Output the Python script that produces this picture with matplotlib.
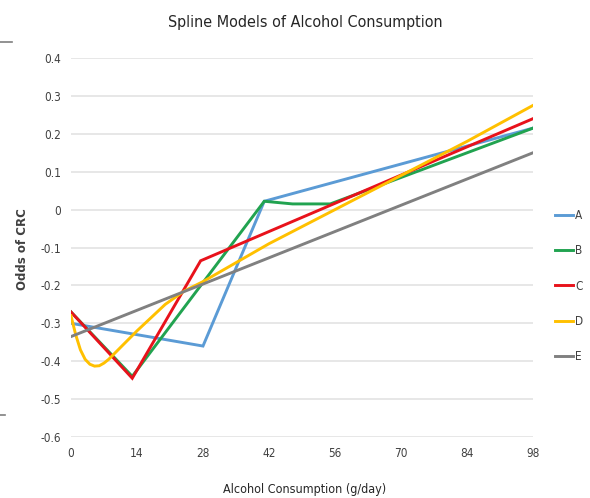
import matplotlib
matplotlib.use("Agg")
import matplotlib.pyplot as plt
from matplotlib.lines import Line2D

plt.rcParams['font.family'] = ["DejaVu Sans"]
plt.rcParams['font.stretch'] = 'condensed'

title = "Spline Models of Alcohol Consumption"
x_label = "Alcohol Consumption (g/day)"
y_label = "Odds of CRC"
x_ticks = [0, 14, 28, 42, 56, 70, 84, 98]
y_ticks = [0.4, 0.3, 0.2, 0.1, 0, -0.1, -0.2, -0.3, -0.4, -0.5, -0.6]

names = ["A", "B", "C", "D", "E"]
colors = ["#5b9bd5", "#21a350", "#e8121b", "#ffc000", "#808080"]

a_x = [0, 28, 41, 98]
a_y = [-0.30, -0.36, 0.022, 0.215]

b_x = [0, 13, 41, 47, 55, 98]
b_y = [-0.27, -0.44, 0.022, 0.015, 0.015, 0.215]

c_x = [0, 13, 27.5, 98]
c_y = [-0.27, -0.445, -0.135, 0.24]

d_x = [0, 1, 2, 3, 4, 5, 6, 7, 8, 10, 12, 14, 17, 20, 24, 28, 35, 42, 56, 70, 84, 98]
d_y = [-0.28, -0.33, -0.37, -0.395, -0.408, -0.413, -0.412, -0.405, -0.395, -0.37,
       -0.345, -0.32, -0.285, -0.25, -0.215, -0.19, -0.14, -0.09, 0.0, 0.09, 0.18, 0.275]

e_x = [0, 98]
e_y = [-0.335, 0.15]

series = [(a_x, a_y), (b_x, b_y), (c_x, c_y), (d_x, d_y), (e_x, e_y)]

fig = plt.figure(figsize=(5.9, 4.98), dpi=100)
ax = fig.add_axes([0.1203, 0.1225, 0.7831, 0.761])

for (xs, ys), n, c in zip(series, names, colors):
    ax.plot(xs, ys, color=c, lw=2.1, label=n, solid_joinstyle='miter')

ax.set_xlim(0, 98)
ax.set_ylim(-0.6, 0.4)
ax.set_xticks(x_ticks)
ax.set_xticklabels([str(v) for v in x_ticks])
ax.set_yticks(y_ticks)
ax.set_yticklabels([("%g" % v) for v in y_ticks])
ax.grid(axis='y', color='#e3e3e3', lw=1.2)
ax.set_axisbelow(True)
for s in ax.spines.values():
    s.set_visible(False)
ax.tick_params(length=0, labelsize=8.5, colors='#404040', pad=7)

fig.text(0.517, 0.955, title, ha='center', va='center', fontsize=11.5, color='#262626')
fig.text(0.517, 0.018, x_label, ha='center', va='center', fontsize=9, color='#262626')
fig.text(0.038, 0.5, y_label, ha='center', va='center', rotation=90, fontsize=8.5,
         fontweight='bold', color='#404040', stretch='normal')

leg = ax.legend(loc='upper left', bbox_to_anchor=(0.94, 0.58), bbox_transform=fig.transFigure,
                frameon=False, handlelength=1.6, handletextpad=0.15, labelspacing=1.88,
                fontsize=8.5, borderaxespad=0, borderpad=0)
for t in leg.get_texts():
    t.set_color('#404040')

# stray marks on the left edge
fig.add_artist(Line2D([0.0, 0.02], [0.915, 0.915], color='#7f7f7f', lw=1.2, transform=fig.transFigure))
fig.add_artist(Line2D([0.0, 0.008], [0.167, 0.167], color='#7f7f7f', lw=1.2, transform=fig.transFigure))

fig.savefig("out.png", dpi=100)
